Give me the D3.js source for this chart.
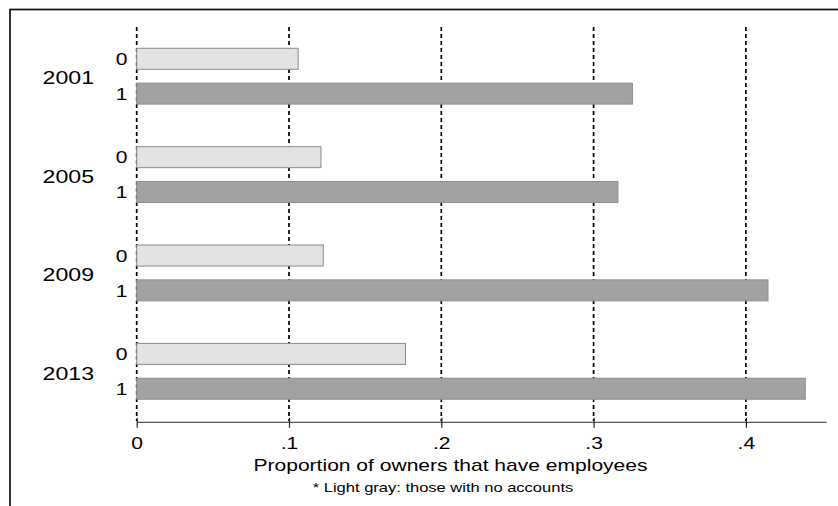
<!DOCTYPE html>
<html>
<head>
<meta charset="utf-8">
<script src="https://cdn.jsdelivr.net/npm/d3@7/dist/d3.min.js"></script>
<style>
  html, body { margin: 0; padding: 0; background: #fff; }
  svg { display: block; }
  text { font-family: "Liberation Sans", Arial, Helvetica, sans-serif; fill: #000; }
</style>
</head>
<body>
<svg id="chart" width="838" height="506"></svg>
<script>
// Survey years and the account-status subgroups within each year
const years = ["2001", "2005", "2009", "2013"];
const accountGroups = ["0", "1"];

// Proportion of owners that have employees
const noAccounts   = [0.106, 0.121, 0.1225, 0.1765];   // group "0" (light gray)
const withAccounts = [0.3255, 0.316, 0.4145, 0.439];  // group "1" (dark gray)

// X-axis ticks
const tickValues = [0, 0.1, 0.2, 0.3, 0.4];
const tickLabels = ["0", ".1", ".2", ".3", ".4"];

const xTitle = "Proportion of owners that have employees";
const note = "* Light gray: those with no accounts";

// The lettering is drawn with a slight horizontal stretch
const SX = 1.3;

const svg = d3.select("#chart");

const rows = years.map((y, i) => ({
  year: y,
  values: [
    { group: "0", value: noAccounts[i] },
    { group: "1", value: withAccounts[i] }
  ]
}));

const x = d3.scaleLinear().domain([0, 0.4526]).range([136.7, 826]);

const yOuter = d3.scaleBand().domain(years).range([27, 420.5]).padding(0);
const yInner = d3.scaleBand().domain(accountGroups)
  .range([0, yOuter.bandwidth()])
  .paddingInner(0.397).paddingOuter(0.611);

const fills = { "0": "#e3e3e3", "1": "#a2a2a2" };
const strokes = { "0": "#8a8a8a", "1": "#8e8e8e" };

// Outer frame
svg.append("rect")
  .attr("x", 10).attr("y", 9.5)
  .attr("width", 860).attr("height", 520)
  .attr("fill", "none")
  .attr("stroke", "#111")
  .attr("stroke-width", 1.7);

// Dashed vertical grid lines
svg.append("g").selectAll("line")
  .data(tickValues)
  .join("line")
  .attr("x1", d => x(d)).attr("x2", d => x(d))
  .attr("y1", 27).attr("y2", 421)
  .attr("stroke", "#000")
  .attr("stroke-width", 1.7)
  .attr("stroke-dasharray", "4,3");

// Bars
const groupsG = svg.append("g").selectAll("g")
  .data(rows)
  .join("g")
  .attr("transform", d => `translate(0,${yOuter(d.year)})`);

groupsG.selectAll("rect")
  .data(d => d.values)
  .join("rect")
  .attr("x", x(0))
  .attr("y", d => yInner(d.group))
  .attr("width", d => x(d.value) - x(0))
  .attr("height", yInner.bandwidth())
  .attr("fill", d => fills[d.group])
  .attr("stroke", d => strokes[d.group])
  .attr("stroke-width", 1);

// Subgroup labels (0 / 1)
groupsG.selectAll("text.sub")
  .data(d => d.values)
  .join("text")
  .attr("class", "sub")
  .attr("text-anchor", "end")
  .attr("font-size", 16.2)
  .attr("transform", d => `translate(127.5,${yInner(d.group) + yInner.bandwidth() / 2 + 6.3}) scale(${SX},1)`)
  .text(d => d.group);

// Year labels
groupsG.append("text")
  .attr("text-anchor", "end")
  .attr("font-size", 17.8)
  .attr("transform", d => `translate(94,${yOuter.bandwidth() / 2 + 8.3}) scale(${SX},1)`)
  .text(d => d.year);

// X axis
const axisG = svg.append("g")
  .attr("transform", "translate(0,421.8)")
  .call(d3.axisBottom(x)
    .tickValues(tickValues)
    .tickFormat((d, i) => tickLabels[i])
    .tickSizeOuter(0)
    .tickSizeInner(6));

axisG.select(".domain").attr("stroke", "#555").attr("stroke-width", 1.2);
axisG.selectAll(".tick line")
  .attr("y1", -4).attr("y2", 6)
  .attr("stroke", "#222").attr("stroke-width", 1.2);
axisG.selectAll(".tick text")
  .attr("y", null).attr("dy", null)
  .attr("font-size", 16.2)
  .attr("font-family", null)
  .attr("fill", "#000")
  .attr("transform", `translate(0,26.8) scale(${SX},1)`);

// Axis title and note
svg.append("text")
  .attr("text-anchor", "middle")
  .attr("font-size", 16.2)
  .attr("transform", `translate(450.5,471.3) scale(${SX},1)`)
  .text(xTitle);

svg.append("text")
  .attr("text-anchor", "middle")
  .attr("font-size", 12.7)
  .attr("transform", `translate(443,492.3) scale(${SX},1)`)
  .text(note);
</script>
</body>
</html>
